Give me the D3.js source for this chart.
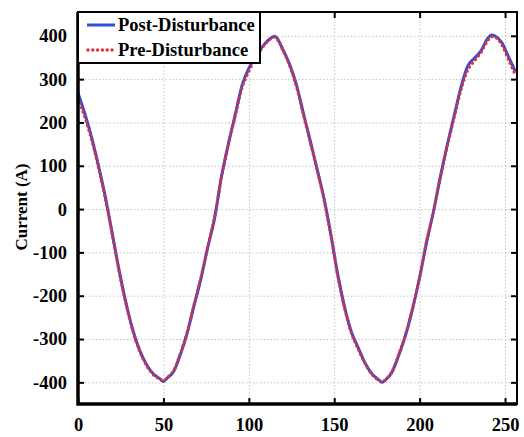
<!DOCTYPE html>
<meta charset="utf-8">
<style>
body { margin: 0; background: #fff; }
text { font-family: "Liberation Serif", "Times New Roman", serif; font-weight: bold; }
.grid line { stroke: #c4c4c4; stroke-width: 1; stroke-dasharray: 1.5,2; }
.grid .domain { display: none; }
.axis .domain { display: none; }
.axis line { stroke: #000; stroke-width: 2; }
.axis text { font-size: 18.5px; fill: #000; }
</style>
<body>
<script src="https://cdn.jsdelivr.net/npm/d3@7"></script>
<script>

// sample index (x) and the two current traces
var sampleIndex = [0,4,8,12,16,20,24,28,32,36,40,44,48,50,52,56,60,64,68,72,76,80,84,88,92,96,100,
  104,108,112,115,116,120,124,128,132,136,140,144,148,152,156,160,164,168,172,176,178,180,184,188,192,196,
  200,204,208,212,216,220,224,228,232,236,240,242,244,248,252,256];

var postCurrent = [268,220,165,100,28,-55,-140,-215,-278,-325,-358,-380,-392,-398,-391,-375,-335,-285,-222,-160,-88,-20,75,150,217,285,325,
  352,375,392,399,397,368,333,285,220,157,92,25,-58,-150,-225,-283,-320,-355,-380,-394,-400,-395,-375,-335,-288,-228,
  -158,-78,-8,72,145,212,278,329,348,366,395,402,400,385,352,318];

var preCurrent = [255,212,160,96,24,-58,-142,-217,-280,-327,-360,-382,-393,-397,-390,-373,-333,-283,-220,-158,-86,-18,73,148,215,280,318,
  348,373,391,397,395,366,330,282,218,155,90,22,-60,-152,-227,-285,-322,-356,-381,-395,-399,-394,-374,-333,-286,-226,
  -156,-76,-6,70,142,208,272,320,342,362,390,398,397,380,345,310];

var xTicks = [0, 50, 100, 150, 200, 250];
var yTicks = [-400, -300, -200, -100, 0, 100, 200, 300, 400];
var seriesNames = ["Post-Disturbance", "Pre-Disturbance"];

var W = 524, H = 437;
var margin = {top: 12, right: 7, bottom: 33, left: 78},
    width = W - margin.left - margin.right,
    height = H - margin.top - margin.bottom;

var svg = d3.select("body").append("svg")
    .attr("width", W)
    .attr("height", H)
  .append("g")
    .attr("transform", "translate(" + margin.left + "," + margin.top + ")");

var x = d3.scaleLinear().domain([0, 257]).range([0, width]);
var y = d3.scaleLinear().domain([-450, 455]).range([height, 0]);
var plain = function(d) { return String(d); }; // ascii hyphen for negatives

// dotted grid
svg.append("g")
    .attr("class", "grid")
    .attr("transform", "translate(0," + height + ")")
    .call(d3.axisBottom(x).tickValues(xTicks.slice(1)).tickSize(-height).tickFormat(""));
svg.append("g")
    .attr("class", "grid")
    .call(d3.axisLeft(y).tickValues(yTicks).tickSize(-width).tickFormat(""));

// curves
var line = d3.line()
    .x(function(d, i) { return x(sampleIndex[i]); })
    .y(function(d) { return y(d); })
    .curve(d3.curveMonotoneX);

svg.append("path")
    .datum(postCurrent)
    .attr("fill", "none")
    .attr("stroke", "#2f4fd6")
    .attr("stroke-width", 3)
    .attr("d", line);

svg.append("path")
    .datum(preCurrent)
    .attr("fill", "none")
    .attr("stroke", "#e0303c")
    .attr("stroke-width", 3.4)
    .attr("stroke-linecap", "round")
    .attr("stroke-dasharray", "0,4.8")
    .attr("d", line);

// axes, ticks point inwards
svg.append("g")
    .attr("class", "axis")
    .attr("transform", "translate(0," + height + ")")
    .call(d3.axisBottom(x).tickValues(xTicks).tickSize(-6).tickPadding(14).tickFormat(plain));
svg.append("g")
    .attr("class", "axis")
    .call(d3.axisLeft(y).tickValues(yTicks).tickSize(-6).tickPadding(11).tickFormat(plain));
svg.append("g")
    .attr("class", "axis")
    .call(d3.axisTop(x).tickValues(xTicks).tickSize(-6).tickFormat(""));
svg.append("g")
    .attr("class", "axis")
    .attr("transform", "translate(" + width + ",0)")
    .call(d3.axisRight(y).tickValues(yTicks).tickSize(-6).tickFormat(""));

// frame
svg.append("rect")
    .attr("width", width)
    .attr("height", height)
    .attr("fill", "none")
    .attr("stroke", "#000")
    .attr("stroke-width", 2);
svg.append("path")
    .attr("d", "M0,0V" + height + "H" + width)
    .attr("fill", "none")
    .attr("stroke", "#000")
    .attr("stroke-width", 3.5);

// y label
svg.append("text")
    .attr("transform", "rotate(-90)")
    .attr("x", -195)
    .attr("y", -51)
    .style("text-anchor", "middle")
    .style("font-size", "17px")
    .text("Current (A)");

// legend
var legend = svg.append("g").attr("class", "legend");
legend.append("rect")
    .attr("width", 182)
    .attr("height", 51)
    .attr("fill", "#fff")
    .attr("stroke", "#000")
    .attr("stroke-width", 2);

var legendStyle = [
  {stroke: "#2f4fd6", dash: null, cap: "butt", w: 3},
  {stroke: "#e0303c", dash: "0,4.8", cap: "round", w: 3.4}
];

legend.selectAll("g.item").data(seriesNames)
  .enter().append("g")
    .attr("class", "item")
    .each(function(d, i) {
      var g = d3.select(this);
      var yy = 13 + i * 25;
      g.append("line")
        .attr("x1", i ? 10 : 9).attr("x2", 37)
        .attr("y1", yy).attr("y2", yy)
        .attr("stroke", legendStyle[i].stroke)
        .attr("stroke-width", legendStyle[i].w)
        .attr("stroke-linecap", legendStyle[i].cap)
        .attr("stroke-dasharray", legendStyle[i].dash);
      g.append("text")
        .attr("x", 40)
        .attr("y", yy + 6)
        .style("font-size", "18.5px")
        .text(d);
    });

</script>
</body>
